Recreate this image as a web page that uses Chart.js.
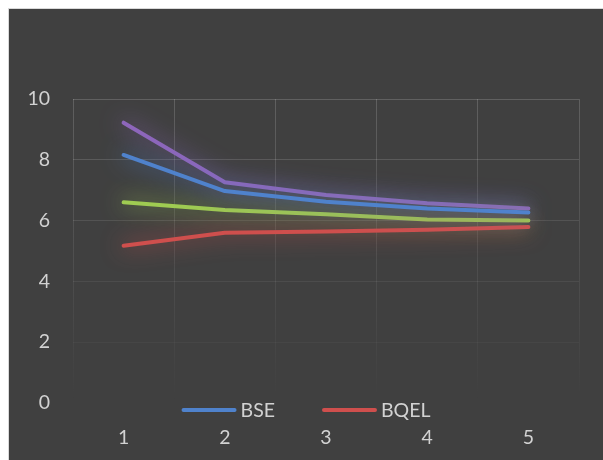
<!DOCTYPE html>
<html><head><meta charset="utf-8">
<script src="https://cdn.jsdelivr.net/npm/chart.js@4.4.1/dist/chart.umd.min.js"></script>
<style>
html,body{margin:0;padding:0;background:#fff;}
#wrap{position:absolute;left:8px;top:8px;width:594px;height:451px;border-left:1px solid #d9d9d9;border-top:1px solid #d9d9d9;background:#404040;}
#wrap canvas{display:block;}
</style></head><body>
<div id="wrap"><canvas id="c" width="594" height="451"></canvas></div>
<script>
const categories = ['1', '2', '3', '4', '5'];
const bse = [8.16, 6.97, 6.62, 6.40, 6.27];
const bqel = [5.17, 5.60, 5.64, 5.70, 5.79];
const series3 = [6.60, 6.35, 6.21, 6.04, 6.00];
const series4 = [9.22, 7.26, 6.84, 6.57, 6.40];
const yTicks = [0, 2, 4, 6, 8, 10];
const legendLabels = ['BSE', 'BQEL'];

const textColor = '#d2d2d2';
const FONT = 'Lato, "Open Sans", sans-serif';

const glow = {
  id: 'glow',
  beforeDatasetDraw(chart, args) {
    const ctx = chart.ctx;
    const ds = chart.data.datasets[args.index];
    ctx.save();
    ctx.shadowColor = ds.glowColor;
    ctx.shadowBlur = 22;
    ctx.shadowOffsetX = 0;
    ctx.shadowOffsetY = 0;
  },
  afterDatasetDraw(chart) { chart.ctx.restore(); }
};

const customLegend = {
  id: 'customLegend',
  afterDraw(chart) {
    const ctx = chart.ctx, ca = chart.chartArea;
    const items = chart.data.datasets.filter(d => legendLabels.includes(d.label));
    ctx.save();
    ctx.font = '19.5px ' + FONT;
    const lineW = 55, gapT = 4, gapI = 47;
    const widths = items.map(d => lineW + gapT + ctx.measureText(d.label).width);
    const total = widths.reduce((a, b) => a + b, 0) + gapI * (items.length - 1);
    let x = chart.width / 2 - total / 2;
    const y = ca.bottom + 7;
    items.forEach((d, i) => {
      ctx.strokeStyle = d.borderColor;
      ctx.lineWidth = 4;
      ctx.lineCap = 'round';
      ctx.beginPath();
      ctx.moveTo(x + 2, y);
      ctx.lineTo(x + lineW - 2, y);
      ctx.stroke();
      ctx.fillStyle = textColor;
      ctx.textBaseline = 'middle';
      ctx.textAlign = 'left';
      ctx.fillText(d.label, x + lineW + gapT, y + 1);
      x += widths[i] + gapI;
    });
    ctx.restore();
  }
};

function mk(label, data, color, glowColor) {
  return {
    label, data,
    borderColor: color, backgroundColor: color, glowColor,
    borderWidth: 4, pointRadius: 0, pointHoverRadius: 0,
    tension: 0, borderCapStyle: 'round', borderJoinStyle: 'round',
    fill: false, clip: false
  };
}

new Chart(document.getElementById('c'), {
  type: 'line',
  data: {
    labels: categories,
    datasets: [
      mk('BSE', bse, '#4f82cc', 'rgba(79,130,204,1)'),
      mk('BQEL', bqel, '#cf4f4d', 'rgba(207,79,77,1)'),
      mk('Series3', series3, '#9fcb52', 'rgba(159,203,82,1)'),
      mk('Series4', series4, '#8e66bb', 'rgba(142,102,187,1)')
    ]
  },
  options: {
    responsive: false,
    animation: false,
    devicePixelRatio: 1,
    layout: { padding: { top: 90, right: 24, bottom: 0, left: 0 } },
    plugins: { legend: { display: false }, tooltip: { enabled: false } },
    scales: {
      x: {
        offset: true,
        grid: {
          offset: true, drawTicks: false, lineWidth: 1,
          color: (c) => {
            const ch = c.chart, a = ch.chartArea;
            if (!a) return 'rgba(255,255,255,0.1)';
            const g = ch.ctx.createLinearGradient(0, a.top, 0, a.bottom);
            g.addColorStop(0, 'rgba(255,255,255,0.17)');
            g.addColorStop(1, 'rgba(255,255,255,0)');
            return g;
          }
        },
        border: { display: false },
        ticks: { color: textColor, font: { family: FONT, size: 19.5 }, padding: 23 },
        afterFit: (s) => { s.height = 57; }
      },
      y: {
        min: 0, max: 10,
        afterBuildTicks: (s) => { s.ticks = yTicks.map(v => ({ value: v })); },
        grid: {
          drawTicks: false, lineWidth: 1,
          color: (c) => 'rgba(255,255,255,' + (0.17 * (c.tick ? c.tick.value : 0) / 10).toFixed(3) + ')'
        },
        border: { display: false },
        ticks: { color: textColor, font: { family: FONT, size: 19.5 }, padding: 23 },
        afterFit: (s) => { s.width = 64; }
      }
    }
  },
  plugins: [glow, customLegend]
});
</script>
</body></html>
